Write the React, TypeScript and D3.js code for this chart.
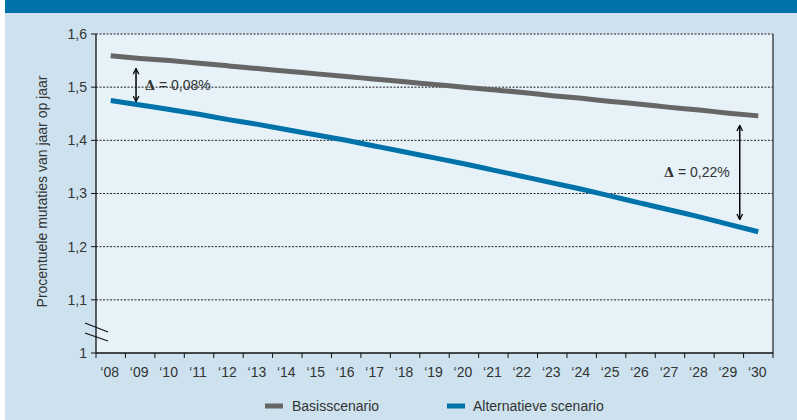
import React from "react";
import * as d3 from "d3";

const years = ["08","09","10","11","12","13","14","15","16","17","18","19","20","21","22","23","24","25","26","27","28","29","30"];
const basis = [1.559,1.554,1.550,1.545,1.540,1.535,1.530,1.525,1.520,1.515,1.510,1.505,1.500,1.495,1.490,1.484,1.479,1.473,1.468,1.462,1.457,1.451,1.446];
const alternatief = [1.475,1.4665,1.458,1.449,1.439,1.430,1.420,1.410,1.400,1.389,1.378,1.367,1.356,1.344,1.332,1.320,1.308,1.295,1.282,1.269,1.256,1.242,1.228];
const yTicks = [1, 1.1, 1.2, 1.3, 1.4, 1.5, 1.6];
const seriesNames = ["Basisscenario", "Alternatieve scenario"];
// annotations: position in year-index units, arrow from/to values, label
const annIndex = [0.86, 21.37];
const annFrom = [1.535, 1.428];
const annTo = [1.473, 1.251];
const annLabels = ["= 0,08%", "= 0,22%"];

const W = 797, H = 420;
const M = { left: 96, right: 773, top: 34, bottom: 353 };
const FONT = "Liberation Sans, Arial, sans-serif";
const GRAY = "#666666";
const BLUE = "#0072aa";
const TEXT = "#333333";

export default function App() {
  const x = d3.scaleBand<string>().domain(years).range([M.left, M.right]).padding(0);
  const bw = x.bandwidth();
  const xi = d3.scaleLinear().domain([0, years.length - 1]).range([M.left + bw / 2, M.right - bw / 2]);
  const y = d3.scaleLinear().domain([1, 1.6]).range([M.bottom, M.top]);
  const line = d3.line<number>().x((_, i) => x(years[i])! + bw / 2).y((d) => y(d)).curve(d3.curveMonotoneX);
  const fmt = (v: number) => (v === 1 ? "1" : d3.format(".1f")(v).replace(".", ","));
  const boundaries = years.map((yr) => x(yr)!).concat([M.right]);

  return (
    <div style={{ position: "absolute", left: 0, top: 0 }}>
      <svg width={W} height={H} style={{ display: "block", fontFamily: FONT }}>
        <defs>
          <marker id="ah" viewBox="0 0 10 10" refX="9" refY="5" markerWidth="7" markerHeight="7" orient="auto-start-reverse" markerUnits="userSpaceOnUse">
            <path d="M1,1 L9,5 L1,9" fill="none" stroke="#000" strokeWidth="1.8" />
          </marker>
        </defs>
        <rect x={0} y={0} width={W} height={H} fill="#ffffff" />
        <rect x={5} y={0} width={W - 5} height={H} fill="#cde2ee" />
        <rect x={5} y={0} width={W - 5} height={13} fill="#0072aa" />
        <rect x={M.left} y={M.top} width={M.right - M.left} height={M.bottom - M.top} fill="#e6f1f8" />
        {/* grid lines */}
        {yTicks.filter((t) => t > 1).map((t) => (
          <line key={t} x1={M.left} x2={M.right} y1={y(t)} y2={y(t)} stroke="#222" strokeWidth={1} strokeDasharray="2,1.5" />
        ))}
        {/* right border */}
        <line x1={M.right} x2={M.right} y1={M.top} y2={M.bottom} stroke="#222" strokeWidth={1.2} />
        {/* y axis */}
        <line x1={M.left} x2={M.left} y1={M.top} y2={M.bottom} stroke="#111" strokeWidth={1.3} />
        {yTicks.map((t) => (
          <g key={t}>
            <line x1={M.left - 5} x2={M.left} y1={y(t)} y2={y(t)} stroke="#111" strokeWidth={1} />
            <text x={M.left - 9} y={y(t)} dy="0.35em" textAnchor="end" fontSize={14} fill={TEXT}>{fmt(t)}</text>
          </g>
        ))}
        {/* axis break */}
        <line x1={85} y1={323} x2={108} y2={332} stroke="#111" strokeWidth={1.2} />
        <line x1={85} y1={333} x2={108} y2={341} stroke="#111" strokeWidth={1.2} />
        {/* x axis */}
        <line x1={M.left} x2={M.right} y1={M.bottom} y2={M.bottom} stroke="#111" strokeWidth={1.3} />
        {boundaries.map((b, i) => (
          <line key={i} x1={b} x2={b} y1={M.bottom} y2={M.bottom + 5} stroke="#111" strokeWidth={1} />
        ))}
        {years.map((yr) => (
          <text key={yr} x={x(yr)! + bw / 2 - 1} y={377} textAnchor="middle" fontSize={14} fill={TEXT}>{"\u2018" + yr}</text>
        ))}
        {/* y title */}
        <text transform={`translate(47,${(M.top + M.bottom) / 2 - 2}) rotate(-90)`} textAnchor="middle" fontSize={14} fill={TEXT}>
          Procentuele mutaties van jaar op jaar
        </text>
        {/* lines */}
        <path d={line(basis) || ""} fill="none" stroke={GRAY} strokeWidth={5} />
        <path d={line(alternatief) || ""} fill="none" stroke={BLUE} strokeWidth={5} />
        {/* annotations */}
        {annIndex.map((ai, k) => (
          <line key={"a" + k} x1={xi(ai)} x2={xi(ai)} y1={y(annTo[k])} y2={y(annFrom[k])} stroke="#000" strokeWidth={1.5}
            markerStart="url(#ah)" markerEnd="url(#ah)" />
        ))}
        <text x={xi(annIndex[0]) + 9} y={y((annFrom[0] + annTo[0]) / 2) + 5} fontSize={14} fill={TEXT}>
          <tspan fontFamily="DejaVu Serif, serif" fontWeight="bold" fontSize={13}>{"\u0394"}</tspan>{" " + annLabels[0]}
        </text>
        <text x={xi(annIndex[1]) - 10} y={y((annFrom[1] + annTo[1]) / 2) + 5} textAnchor="end" fontSize={14} fill={TEXT}>
          <tspan fontFamily="DejaVu Serif, serif" fontWeight="bold" fontSize={13}>{"\u0394"}</tspan>{" " + annLabels[1]}
        </text>
        {/* legend */}
        <rect x={265} y={403.5} width={18} height={5} fill={GRAY} />
        <text x={292} y={411} fontSize={14} fill={TEXT}>{seriesNames[0]}</text>
        <rect x={447} y={403.5} width={18} height={5} fill={BLUE} />
        <text x={473} y={411} fontSize={14} fill={TEXT}>{seriesNames[1]}</text>
      </svg>
    </div>
  );
}
